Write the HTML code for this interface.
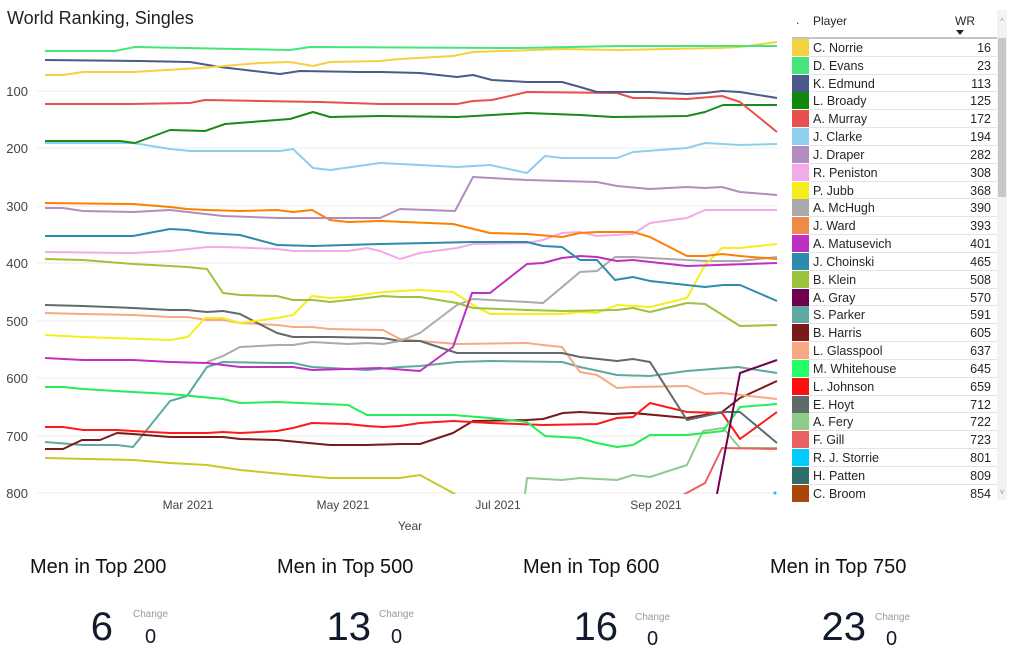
<!DOCTYPE html>
<html><head><meta charset="utf-8"><style>
html,body{margin:0;padding:0;background:#fff;}
svg{display:block;font-family:"Liberation Sans",sans-serif;}
</style></head><body>
<svg width="1024" height="662" viewBox="0 0 1024 662" xmlns="http://www.w3.org/2000/svg">
<text x="7" y="24" font-size="18" fill="#222">World Ranking, Singles</text>
<g stroke="#ececec" stroke-width="1">
<line x1="37" y1="91" x2="778" y2="91"/><line x1="37" y1="148" x2="778" y2="148"/>
<line x1="37" y1="206" x2="778" y2="206"/><line x1="37" y1="263" x2="778" y2="263"/>
<line x1="37" y1="321" x2="778" y2="321"/><line x1="37" y1="378" x2="778" y2="378"/>
<line x1="37" y1="436" x2="778" y2="436"/><line x1="37" y1="493" x2="778" y2="493"/>
</g>
<g font-size="13" fill="#444" text-anchor="end">
<text x="28" y="96">100</text><text x="28" y="153">200</text><text x="28" y="211">300</text>
<text x="28" y="268">400</text><text x="28" y="326">500</text><text x="28" y="383">600</text>
<text x="28" y="441">700</text><text x="28" y="498">800</text>
</g>
<g font-size="12" fill="#444" text-anchor="middle">
<text x="188" y="509">Mar 2021</text><text x="343" y="509">May 2021</text>
<text x="498" y="509">Jul 2021</text><text x="656" y="509">Sep 2021</text>
<text x="410" y="530">Year</text>
</g>
<defs><clipPath id="c"><rect x="37" y="30" width="745" height="464"/></clipPath></defs>
<g clip-path="url(#c)" fill="none" stroke-width="2" stroke-linejoin="round">
<polyline stroke="#c8c828" points="45,458 133,460 170,463 207,465 240,470 293,475 330,478 400,478 420,475 453,493 480,510"/>
<polyline stroke="#8fcc8a" points="523,510 527,478 562,480 580,478 617,480 633,475 650,477 687,465 703,431 723,428 740,448 777,448"/>
<polyline stroke="#e86060" points="683,495 705,483 722,448 777,449"/>
<polyline stroke="#5fa8a0" points="45,442 83,445 117,445 133,447 170,401 187,396 207,367 223,362 277,363 293,363 312,367 367,370 400,367 420,366 457,362 490,361 562,362 580,367 617,375 650,376 687,371 738,367 777,373"/>
<polyline stroke="#7a1a1a" points="45,449 63,449 82,440 100,440 117,433 133,434 170,437 223,437 240,439 277,440 330,445 367,445 400,444 420,444 453,433 473,421 527,420 543,419 563,413 580,412 613,414 633,413 687,418 722,412 740,398 777,381"/>
<polyline stroke="#ff1a1a" points="45,427 63,427 83,430 117,430 133,431 170,433 207,433 223,432 240,433 277,431 293,428 312,423 348,424 367,426 383,427 400,426 420,423 453,421 490,423 543,425 597,424 617,418 633,417 650,403 687,412 722,413 740,439 777,412"/>
<polyline stroke="#22ee55" points="45,387 63,387 83,389 133,392 170,394 223,399 240,403 277,402 348,405 367,415 400,415 453,415 490,418 527,422 545,436 580,438 597,443 617,447 633,445 650,435 687,435 705,433 723,431 740,407 777,404"/>
<polyline stroke="#f8a882" points="45,313 83,314 133,315 170,317 187,317 207,320 223,320 240,323 277,325 293,327 312,327 330,329 383,330 400,339 420,341 457,344 527,343 543,345 562,347 580,372 597,375 617,388 633,387 687,386 705,394 722,393 740,395 777,399"/>
<polyline stroke="#5f6b6b" points="45,305 83,306 133,308 170,310 187,310 207,312 223,311 240,314 277,333 293,337 330,337 383,338 400,341 420,341 457,353 562,353 580,357 617,361 633,359 650,362 687,420 723,412 740,412 777,443"/>
<polyline stroke="#aaaaaa" points="207,362 223,356 240,347 277,345 293,345 312,342 330,343 348,344 367,343 383,344 400,341 420,333 457,305 473,299 527,302 543,303 580,272 597,271 615,257 633,257 705,261 740,261 777,257"/>
<polyline stroke="#f5ee1a" points="45,335 83,337 170,340 188,337 205,318 223,318 240,323 277,318 293,315 312,296 330,298 348,297 383,292 400,291 420,290 453,292 473,305 490,314 562,314 580,312 597,313 617,305 650,307 687,298 705,265 722,248 740,248 777,244"/>
<polyline stroke="#9dc23e" points="45,259 83,260 133,264 170,266 187,267 207,269 223,293 240,295 277,296 293,300 313,300 330,302 348,300 367,298 383,296 400,297 420,297 457,303 473,308 527,310 563,311 617,310 633,308 650,312 687,303 705,304 740,326 777,325"/>
<polyline stroke="#c030c0" points="45,358 83,360 133,360 170,362 207,363 240,367 277,367 293,367 312,370 380,368 420,371 453,347 472,293 490,293 527,264 543,263 562,258 580,256 597,257 617,261 633,260 687,266 777,263"/>
<polyline stroke="#f2aae8" points="45,252 133,253 170,251 207,247 223,247 277,249 293,251 348,251 367,248 380,251 400,259 420,253 457,248 473,244 527,243 543,240 562,233 580,232 597,236 633,234 650,223 687,218 705,210 777,210"/>
<polyline stroke="#2e8bb0" points="45,236 133,236 170,229 187,230 207,233 240,235 277,245 313,246 380,244 473,242 527,242 543,246 562,247 580,260 597,260 615,280 633,277 650,281 705,287 723,285 740,285 777,301"/>
<polyline stroke="#ff8000" points="45,203 133,204 170,207 187,209 207,210 240,211 277,210 293,212 312,210 330,220 348,222 380,221 453,224 490,233 527,234 562,237 580,233 597,232 633,232 650,237 687,256 705,256 722,254 740,256 777,259"/>
<polyline stroke="#b48cc0" points="45,208 63,208 83,211 133,212 170,210 223,216 277,218 380,218 400,209 455,211 473,177 527,180 597,182 617,186 650,189 687,187 705,188 722,187 740,192 777,195"/>
<polyline stroke="#8ecfee" points="45,143 133,143 170,149 190,151 280,151 293,149 313,168 330,170 380,163 457,167 490,165 527,173 545,156 562,158 617,158 633,152 687,148 705,143 740,145 777,144"/>
<polyline stroke="#1a8a1a" points="45,141 120,141 135,143 170,130 205,131 225,124 290,119 313,112 330,117 380,116 457,117 527,113 580,115 613,117 687,116 705,112 723,105 777,105"/>
<polyline stroke="#e85050" points="45,104 130,104 190,103 205,100 260,101 320,102 380,104 457,104 473,101 492,100 527,92 617,93 633,98 650,98 687,99 722,96 740,102 777,132"/>
<polyline stroke="#4a5a8a" points="45,60 140,61 190,62 220,67 280,74 300,71 360,72 380,72 420,73 457,77 473,75 492,80 527,82 562,82 580,87 597,92 650,92 687,94 705,93 722,91 740,92 777,98"/>
<polyline stroke="#f5d142" points="45,75 63,75 83,72 133,72 200,68 260,63 290,62 313,66 330,62 380,61 400,59 453,56 473,52 563,49 617,50 720,48 740,47 777,42"/>
<polyline stroke="#44e57a" points="45,51 115,51 135,47 290,50 310,47 520,48 620,46 777,46"/>
<polyline stroke="#700050" points="717,494 740,373 777,360"/>
</g>
<circle cx="775" cy="493" r="1.5" fill="#00ccff"/>
<!-- table -->
<text x="796" y="24" font-size="12" fill="#333">.</text>
<text x="813" y="25" font-size="12" fill="#252525">Player</text>
<text x="955" y="25" font-size="12" fill="#252525">WR</text>
<polygon points="956,30 964,30 960,35" fill="#222"/>
<line x1="792" y1="38" x2="997" y2="38" stroke="#888" stroke-width="1"/>
<rect x="997" y="10" width="10" height="490" fill="#f3f3f3"/>
<rect x="998" y="38" width="8" height="159" fill="#c8c8c8"/>
<text x="1002" y="24" font-size="8" fill="#999" text-anchor="middle">^</text>
<text x="1002" y="494" font-size="8" fill="#999" text-anchor="middle">v</text>
<g font-size="12.5" fill="#252525">
<g id="rows"></g>
</g>
<g font-size="12.5" fill="#252525">
<rect x="792" y="39" width="17" height="17" fill="#f5d142"/><text x="813" y="52">C. Norrie</text><text x="991" y="52" text-anchor="end">16</text>
<rect x="792" y="57" width="17" height="17" fill="#44e57a"/><text x="813" y="70">D. Evans</text><text x="991" y="70" text-anchor="end">23</text>
<rect x="792" y="75" width="17" height="17" fill="#4a5a8a"/><text x="813" y="88">K. Edmund</text><text x="991" y="88" text-anchor="end">113</text>
<rect x="792" y="92" width="17" height="17" fill="#0f8a0f"/><text x="813" y="105">L. Broady</text><text x="991" y="105" text-anchor="end">125</text>
<rect x="792" y="110" width="17" height="17" fill="#e85050"/><text x="813" y="123">A. Murray</text><text x="991" y="123" text-anchor="end">172</text>
<rect x="792" y="128" width="17" height="17" fill="#8ecfee"/><text x="813" y="141">J. Clarke</text><text x="991" y="141" text-anchor="end">194</text>
<rect x="792" y="146" width="17" height="17" fill="#b48cc0"/><text x="813" y="159">J. Draper</text><text x="991" y="159" text-anchor="end">282</text>
<rect x="792" y="164" width="17" height="17" fill="#f2aae8"/><text x="813" y="177">R. Peniston</text><text x="991" y="177" text-anchor="end">308</text>
<rect x="792" y="182" width="17" height="17" fill="#f5ee1a"/><text x="813" y="195">P. Jubb</text><text x="991" y="195" text-anchor="end">368</text>
<rect x="792" y="199" width="17" height="17" fill="#aaaaaa"/><text x="813" y="212">A. McHugh</text><text x="991" y="212" text-anchor="end">390</text>
<rect x="792" y="217" width="17" height="17" fill="#f08a48"/><text x="813" y="230">J. Ward</text><text x="991" y="230" text-anchor="end">393</text>
<rect x="792" y="235" width="17" height="17" fill="#c030c0"/><text x="813" y="248">A. Matusevich</text><text x="991" y="248" text-anchor="end">401</text>
<rect x="792" y="253" width="17" height="17" fill="#2e8bb0"/><text x="813" y="266">J. Choinski</text><text x="991" y="266" text-anchor="end">465</text>
<rect x="792" y="271" width="17" height="17" fill="#9dc23e"/><text x="813" y="284">B. Klein</text><text x="991" y="284" text-anchor="end">508</text>
<rect x="792" y="289" width="17" height="17" fill="#700050"/><text x="813" y="302">A. Gray</text><text x="991" y="302" text-anchor="end">570</text>
<rect x="792" y="306" width="17" height="17" fill="#5fa8a0"/><text x="813" y="319">S. Parker</text><text x="991" y="319" text-anchor="end">591</text>
<rect x="792" y="324" width="17" height="17" fill="#7a1a1a"/><text x="813" y="337">B. Harris</text><text x="991" y="337" text-anchor="end">605</text>
<rect x="792" y="342" width="17" height="17" fill="#f8a882"/><text x="813" y="355">L. Glasspool</text><text x="991" y="355" text-anchor="end">637</text>
<rect x="792" y="360" width="17" height="17" fill="#22ff66"/><text x="813" y="373">M. Whitehouse</text><text x="991" y="373" text-anchor="end">645</text>
<rect x="792" y="378" width="17" height="17" fill="#ff1010"/><text x="813" y="391">L. Johnson</text><text x="991" y="391" text-anchor="end">659</text>
<rect x="792" y="396" width="17" height="17" fill="#5f6b6b"/><text x="813" y="409">E. Hoyt</text><text x="991" y="409" text-anchor="end">712</text>
<rect x="792" y="413" width="17" height="17" fill="#8fcc8a"/><text x="813" y="426">A. Fery</text><text x="991" y="426" text-anchor="end">722</text>
<rect x="792" y="431" width="17" height="17" fill="#e86060"/><text x="813" y="444">F. Gill</text><text x="991" y="444" text-anchor="end">723</text>
<rect x="792" y="449" width="17" height="17" fill="#00ccff"/><text x="813" y="462">R. J. Storrie</text><text x="991" y="462" text-anchor="end">801</text>
<rect x="792" y="467" width="17" height="17" fill="#2e6e6a"/><text x="813" y="480">H. Patten</text><text x="991" y="480" text-anchor="end">809</text>
<rect x="792" y="485" width="17" height="17" fill="#a84808"/><text x="813" y="498">C. Broom</text><text x="991" y="498" text-anchor="end">854</text>
</g>
<g stroke="#e4e4e4" stroke-width="1">
<line x1="809" y1="56.5" x2="997" y2="56.5"/><line x1="809" y1="74.5" x2="997" y2="74.5"/><line x1="809" y1="91.5" x2="997" y2="91.5"/>
<line x1="809" y1="109.5" x2="997" y2="109.5"/><line x1="809" y1="127.5" x2="997" y2="127.5"/><line x1="809" y1="145.5" x2="997" y2="145.5"/>
<line x1="809" y1="163.5" x2="997" y2="163.5"/><line x1="809" y1="181.5" x2="997" y2="181.5"/><line x1="809" y1="198.5" x2="997" y2="198.5"/>
<line x1="809" y1="216.5" x2="997" y2="216.5"/><line x1="809" y1="234.5" x2="997" y2="234.5"/><line x1="809" y1="252.5" x2="997" y2="252.5"/>
<line x1="809" y1="270.5" x2="997" y2="270.5"/><line x1="809" y1="288.5" x2="997" y2="288.5"/><line x1="809" y1="305.5" x2="997" y2="305.5"/>
<line x1="809" y1="323.5" x2="997" y2="323.5"/><line x1="809" y1="341.5" x2="997" y2="341.5"/><line x1="809" y1="359.5" x2="997" y2="359.5"/>
<line x1="809" y1="377.5" x2="997" y2="377.5"/><line x1="809" y1="395.5" x2="997" y2="395.5"/><line x1="809" y1="412.5" x2="997" y2="412.5"/>
<line x1="809" y1="430.5" x2="997" y2="430.5"/><line x1="809" y1="448.5" x2="997" y2="448.5"/><line x1="809" y1="466.5" x2="997" y2="466.5"/>
<line x1="809" y1="484.5" x2="997" y2="484.5"/>
</g>
<!-- KPIs -->
<g fill="#111">
<text x="30" y="573" font-size="20">Men in Top 200</text>
<text x="277" y="573" font-size="20">Men in Top 500</text>
<text x="523" y="573" font-size="20">Men in Top 600</text>
<text x="770" y="573" font-size="20">Men in Top 750</text>
<g font-size="40" fill="#121a2e" text-anchor="end">
<text x="113" y="640">6</text><text x="371" y="640">13</text><text x="618" y="640">16</text><text x="866" y="640">23</text>
</g>
<g font-size="10" fill="#999">
<text x="133" y="617">Change</text><text x="379" y="617">Change</text><text x="635" y="620">Change</text><text x="875" y="620">Change</text>
</g>
<g font-size="20" fill="#121a2e">
<text x="145" y="643">0</text><text x="391" y="643">0</text><text x="647" y="645">0</text><text x="886" y="645">0</text>
</g>
</g>
</svg>
</body></html>
